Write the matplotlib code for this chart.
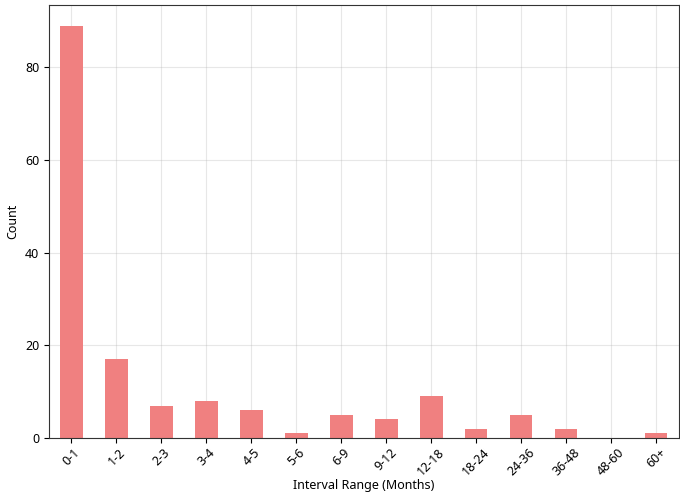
import matplotlib
matplotlib.use("Agg")
import matplotlib.pyplot as plt
import pandas as pd

plt.rcParams['font.family'] = ['Noto Sans', 'DejaVu Sans']

ranges = ['0-1', '1-2', '2-3', '3-4', '4-5', '5-6', '6-9', '9-12',
          '12-18', '18-24', '24-36', '36-48', '48-60', '60+']
counts = [89, 17, 7, 8, 6, 1, 5, 4, 9, 2, 5, 2, 0, 1]

s = pd.Series(counts, index=ranges)

fig = plt.figure(figsize=(6.8, 4.96), dpi=100)
ax = fig.add_axes([0.072, 0.117, 0.926, 0.873])
s.plot(kind='bar', ax=ax, color='lightcoral', width=0.5)
ax.set_xlabel('Interval Range (Months)', fontsize=9, labelpad=1)
ax.set_ylabel('Count', fontsize=9)
ax.tick_params(axis='both', labelsize=9)
ax.tick_params(axis='x', pad=2)
plt.setp(ax.get_xticklabels(), rotation=45)
ax.grid(True, alpha=0.3)
ax.set_axisbelow(True)
for sp in ax.spines.values():
    sp.set_color('#333333')

fig.savefig('out.png', dpi=100)
